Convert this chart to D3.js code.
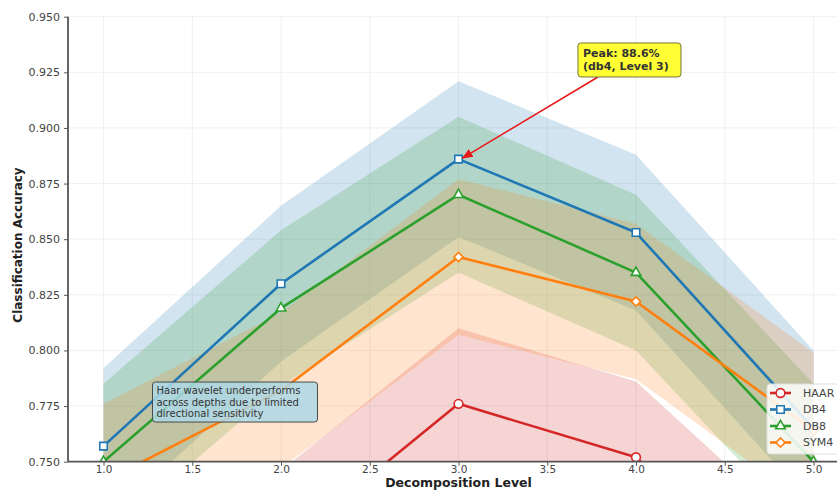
<!DOCTYPE html>
<html>
<head>
<meta charset="utf-8">
<script src="https://cdn.jsdelivr.net/npm/d3@7"></script>
<style>
	body { margin: 0; background: #fff; }
	svg { display: block; font-family: "DejaVu Sans", sans-serif; }
</style>
</head>
<body>
<svg id="chart" width="837" height="490"></svg>
<script>
var levels = [1, 2, 3, 4, 5];
var haar = [0.695, 0.711, 0.776, 0.752, 0.678];
var db4 = [0.757, 0.830, 0.886, 0.853, 0.765];
var db8 = [0.750, 0.819, 0.870, 0.835, 0.750];
var sym4 = [0.741, 0.782, 0.842, 0.822, 0.764];
var haarStd = [0.035, 0.035, 0.034, 0.034, 0.035];
var db4Std = [0.035, 0.035, 0.035, 0.035, 0.035];
var db8Std = [0.035, 0.035, 0.035, 0.035, 0.035];
var sym4Std = [0.035, 0.035, 0.035, 0.035, 0.035];
var xTicks = [1.0, 1.5, 2.0, 2.5, 3.0, 3.5, 4.0, 4.5, 5.0];
var yTicks = [0.750, 0.775, 0.800, 0.825, 0.850, 0.875, 0.900, 0.925, 0.950];

var series = [
	{id: 'HAAR', values: haar, std: haarStd, color: '#d62728', marker: 'circle'},
	{id: 'DB4', values: db4, std: db4Std, color: '#1f77b4', marker: 'square'},
	{id: 'DB8', values: db8, std: db8Std, color: '#2ca02c', marker: 'triangle'},
	{id: 'SYM4', values: sym4, std: sym4Std, color: '#ff7f0e', marker: 'diamond'}
];

var svg = d3.select('svg#chart'),
    margin = {top: 16.7, left: 68},
    width = 781,
    height = 445,
    g = svg.append('g').attr('transform', 'translate(' + margin.left + ',' + margin.top + ')');

var x = d3.scaleLinear().domain([0.8, 5.2]).range([0, width]),
    y = d3.scaleLinear().domain([0.75, 0.95]).range([height, 0]);

svg.append('defs').append('clipPath').attr('id', 'clip')
	.append('rect').attr('width', width).attr('height', height);

// grid
g.append('g').selectAll('line').data(xTicks).enter().append('line')
	.attr('x1', d => x(d)).attr('x2', d => x(d))
	.attr('y1', 0).attr('y2', height)
	.attr('stroke', '#ececec').attr('stroke-width', 0.8);
g.append('g').selectAll('line').data(yTicks).enter().append('line')
	.attr('x1', 0).attr('x2', width)
	.attr('y1', d => y(d)).attr('y2', d => y(d))
	.attr('stroke', '#ececec').attr('stroke-width', 0.8);

var plot = g.append('g').attr('clip-path', 'url(#clip)');

var area = d3.area()
	.x(d => x(d.level))
	.y0(d => y(d.value - d.std))
	.y1(d => y(d.value + d.std));

var line = d3.line()
	.x(d => x(d.level))
	.y(d => y(d.value));

series.forEach(s => {
	s.points = levels.map((l, i) => ({level: l, value: s.values[i], std: s.std[i]}));
});

plot.selectAll('.band').data(series).enter().append('path')
	.attr('class', 'band')
	.attr('d', d => area(d.points))
	.attr('fill', d => d.color)
	.attr('fill-opacity', 0.2);

function symbolFor(m) {
	return {circle: d3.symbolCircle, square: d3.symbolSquare, triangle: d3.symbolTriangle, diamond: d3.symbolSquare}[m];
}
function sizeFor(m) {
	return {circle: 60, square: 56, triangle: 40, diamond: 42}[m];
}
function rot(m) {
	return m === 'diamond' ? ' rotate(45)' : '';
}

series.forEach(s => {
	plot.append('path')
		.attr('d', line(s.points))
		.attr('fill', 'none')
		.attr('stroke', s.color)
		.attr('stroke-width', 2.6)
		.attr('stroke-linejoin', 'round');
	plot.selectAll(null).data(s.points).enter().append('path')
		.attr('transform', d => 'translate(' + x(d.level) + ',' + y(d.value) + ')' + rot(s.marker))
		.attr('d', d3.symbol().type(symbolFor(s.marker)).size(sizeFor(s.marker)))
		.attr('fill', '#fff')
		.attr('stroke', s.color)
		.attr('stroke-width', 1.6);
});

// axes
var xAxis = g.append('g')
	.attr('transform', 'translate(0,' + height + ')')
	.call(d3.axisBottom(x).tickValues(xTicks).tickFormat(d3.format('.1f')).tickSize(4).tickPadding(0));
var yAxis = g.append('g')
	.call(d3.axisLeft(y).tickValues(yTicks).tickFormat(d3.format('.3f')).tickSize(4).tickPadding(4));
[xAxis, yAxis].forEach(a => {
	a.select('.domain').attr('stroke', '#555').attr('stroke-width', 1.8);
	a.selectAll('.tick line').attr('stroke', '#555');
	a.selectAll('.tick text').attr('fill', '#444').style('font-size', '11px').style('font-family', 'DejaVu Sans');
});
xAxis.selectAll('.tick text').style('font-size', '10.5px');
xAxis.select('.domain').attr('d', 'M0,0H' + width);
yAxis.select('.domain').attr('d', 'M0,0V' + height);

svg.append('text')
	.attr('x', margin.left + width / 2)
	.attr('y', 487)
	.attr('text-anchor', 'middle')
	.style('font-size', '12.5px').style('font-weight', 'bold').attr('fill', '#222')
	.text('Decomposition Level');

svg.append('text')
	.attr('transform', 'translate(22,245) rotate(-90)')
	.attr('text-anchor', 'middle')
	.style('font-size', '12px').style('font-weight', 'bold').attr('fill', '#222')
	.text('Classification Accuracy');

// peak annotation
var peakBox = {x: 3.673, y: 0.9382},
    peakText = ['Peak: 88.6%', '(db4, Level 3)'];
var defs = svg.select('defs');
defs.append('marker').attr('id', 'arrow')
	.attr('viewBox', '0 0 10 10').attr('refX', 9).attr('refY', 5)
	.attr('markerWidth', 7).attr('markerHeight', 7).attr('orient', 'auto')
	.append('path').attr('d', 'M0,1 L10,5 L0,9 z').attr('fill', '#e8191a');

g.append('line')
	.attr('x1', x(peakBox.x) + 20).attr('y1', y(peakBox.y) + 34)
	.attr('x2', x(3) + 4).attr('y2', y(db4[2]) - 1)
	.attr('stroke', '#e8191a').attr('stroke-width', 1.6)
	.attr('marker-end', 'url(#arrow)');

var pb = g.append('g').attr('transform', 'translate(' + x(peakBox.x) + ',' + y(peakBox.y) + ')');
pb.append('rect').attr('width', 103).attr('height', 34).attr('rx', 3)
	.attr('fill', '#ffff33').attr('stroke', '#77763a').attr('stroke-width', 1);
pb.selectAll('text').data(peakText).enter().append('text')
	.attr('x', 5).attr('y', (d, i) => 14 + i * 13)
	.style('font-size', '11px').style('font-weight', 'bold').attr('fill', '#333')
	.text(d => d);

// haar note
var noteBox = {x: 1.276, y: 0.7858},
    noteText = ['Haar wavelet underperforms', 'across depths due to limited', 'directional sensitivity'];
var nb = g.append('g').attr('transform', 'translate(' + x(noteBox.x) + ',' + y(noteBox.y) + ')');
nb.append('rect').attr('width', 165).attr('height', 40).attr('rx', 3)
	.attr('fill', '#add8e6').attr('fill-opacity', 0.85).attr('stroke', '#4a4a4a').attr('stroke-width', 1);
nb.selectAll('text').data(noteText).enter().append('text')
	.attr('x', 4).attr('y', (d, i) => 12 + i * 11.5)
	.style('font-size', '10px').attr('fill', '#333')
	.text(d => d);

// legend
var lg = svg.append('g').attr('transform', 'translate(767,384)');
lg.append('rect').attr('width', 90).attr('height', 70).attr('rx', 3)
	.attr('fill', '#fff').attr('fill-opacity', 0.85).attr('stroke', '#ddd');
var items = lg.selectAll('.item').data(series).enter().append('g')
	.attr('transform', (d, i) => 'translate(0,' + (9 + i * 16.5) + ')');
items.append('line').attr('x1', 3).attr('x2', 24)
	.attr('stroke', d => d.color).attr('stroke-width', 2.6);
items.append('path')
	.attr('transform', d => 'translate(13.5,0)' + rot(d.marker))
	.attr('d', d => d3.symbol().type(symbolFor(d.marker)).size(sizeFor(d.marker))())
	.attr('fill', '#fff').attr('stroke', d => d.color).attr('stroke-width', 1.6);
items.append('text').attr('x', 36).attr('dy', '0.36em')
	.style('font-size', '11px').attr('fill', '#444')
	.text(d => d.id);
</script>
</body>
</html>
